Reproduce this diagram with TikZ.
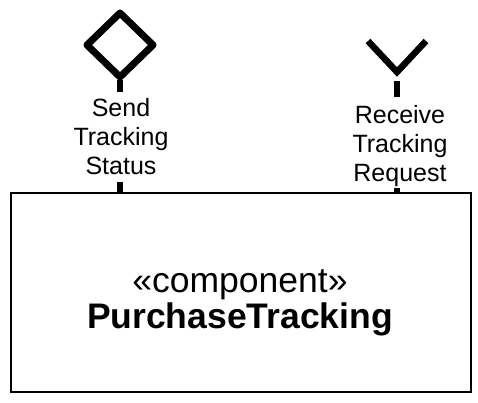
\documentclass[tikz,border=0pt]{standalone}
\usepackage{fontspec}
\setmainfont{Liberation Sans}
\begin{document}
\begin{tikzpicture}[x=1pt,y=-1pt,
  port/.style={line width=7pt,line join=round,line cap=round},
  stem/.style={line width=6pt},
  lbl/.style={align=center,inner sep=0pt,font=\fontsize{25}{29}\selectfont},
  comp/.style={draw,line width=2pt,minimum width=460pt,minimum height=199pt,inner sep=0pt}]
\useasboundingbox (0,0) rectangle (478,402);
\node[comp] (box) at (241,292.5) {};
\node[align=center,inner sep=0pt] (name) at (240,303) {\fontsize{35.5}{40}\selectfont «component»\\[2pt]\fontsize{35.5}{40}\selectfont\bfseries PurchaseTracking};
% send port
\draw[port] (120,13) -- (153,45) -- (120,77) -- (87,45) -- cycle;
\coordinate (s1) at (120,80);
\coordinate (s2) at (120,92);
\draw[stem] (s1) -- (s2);
\node[lbl] (send) at (121,137) {Send\\Tracking\\Status};
\coordinate (s3) at (120,182);
\draw[stem] (s3) -- (box.north -| s3);
% receive port
\coordinate (r0) at (397,72);
\coordinate (rl) at (368,41);
\coordinate (rr) at (426,41);
\draw[line width=6.5pt,line join=miter] (rl) -- (r0) -- (rr);
\coordinate (r1) at (397,81);
\coordinate (r2) at (397,97);
\draw[stem] (r1) -- (r2);
\node[lbl] (recv) at (400,146) {Receive\\Tracking\\Request};
\coordinate (r3) at (397,188);
\draw[stem] (r3) -- (box.north -| r3);
\end{tikzpicture}
\end{document}
